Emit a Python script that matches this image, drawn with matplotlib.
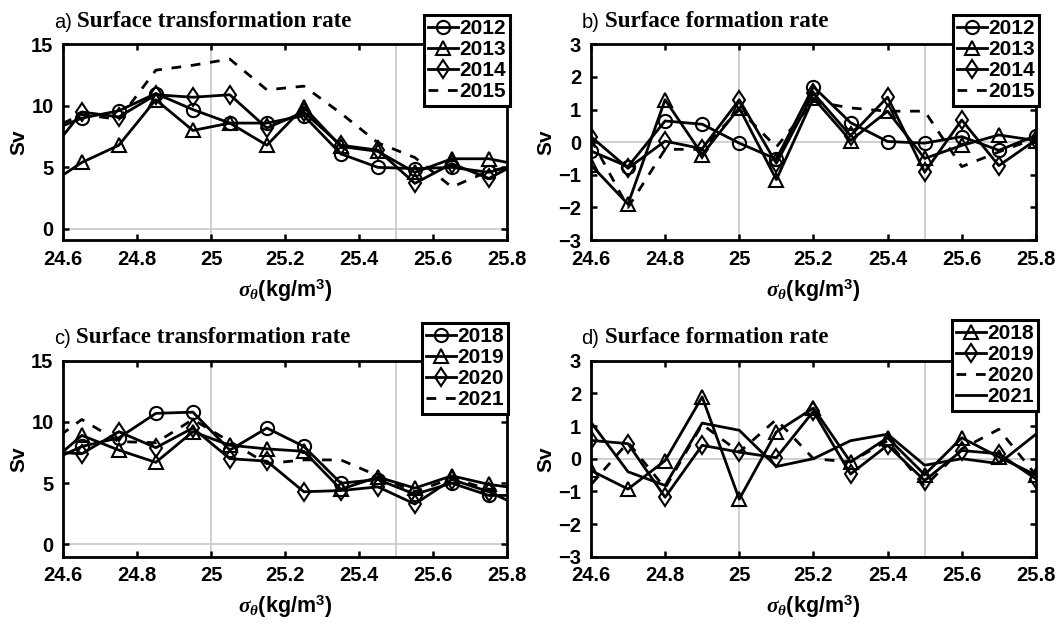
import numpy as np
import matplotlib.pyplot as plt

plt.rcParams['font.family'] = 'Liberation Sans'
plt.rcParams['font.weight'] = 'bold'
plt.rcParams['axes.labelweight'] = 'bold'
plt.rcParams['mathtext.fontset'] = 'custom'
plt.rcParams['mathtext.it'] = 'Liberation Serif:italic'
plt.rcParams['mathtext.rm'] = 'Liberation Sans:bold'

# density bins: transformation rate on bin centres, formation rate on bin edges
sig_mid = [24.55, 24.65, 24.75, 24.85, 24.95, 25.05, 25.15, 25.25, 25.35, 25.45, 25.55, 25.65, 25.75, 25.85]
sig_edge = [24.6, 24.7, 24.8, 24.9, 25.0, 25.1, 25.2, 25.3, 25.4, 25.5, 25.6, 25.7, 25.8]

# a) transformation rate 2012-2015 (Sv)
tr_2012 = [7.8, 9.0, 9.6, 11.0, 9.7, 8.6, 8.6, 9.2, 6.1, 5.0, 4.9, 5.0, 4.6, 5.4]
tr_2013 = [3.4, 5.4, 6.8, 10.5, 8.0, 8.6, 6.8, 9.9, 6.7, 6.3, 4.6, 5.7, 5.7, 5.1]
tr_2014 = [5.7, 9.5, 9.1, 10.9, 10.7, 10.9, 8.2, 9.5, 6.8, 6.4, 3.7, 5.3, 4.1, 5.7]
tr_2015 = [7.9, 9.3, 8.9, 12.9, 13.3, 13.8, 11.3, 11.6, 9.4, 7.0, 5.8, 3.4, 4.7, 5.3]

# b) formation rate 2012-2015 (Sv)
fr_2012 = [-0.27, -0.75, 0.65, 0.55, -0.03, -0.52, 1.7, 0.6, 0.02, -0.03, 0.17, -0.25, 0.2]
fr_2013 = [-0.7, -1.9, 1.3, -0.38, 1.05, -1.15, 1.35, 0.05, 0.95, -0.5, -0.1, 0.22, 0.05]
fr_2014 = [0.17, -0.8, 0.03, -0.2, 1.3, -0.65, 1.5, 0.2, 1.38, -0.92, 0.68, -0.72, 0.07]
fr_2015 = [0.1, -2.0, -0.22, -0.22, 1.0, -0.15, 1.25, 1.05, 0.95, 0.95, -0.75, -0.3, 0.12]

# c) transformation rate 2018-2021 (Sv)
tr_2018 = [6.6, 8.0, 8.7, 10.7, 10.8, 7.7, 9.5, 8.0, 5.0, 5.3, 4.1, 5.0, 4.0, 4.0]
tr_2019 = [6.3, 8.9, 7.7, 6.7, 9.2, 8.1, 7.8, 7.6, 4.5, 5.5, 4.6, 5.6, 4.9, 4.5]
tr_2020 = [7.6, 7.4, 9.2, 7.9, 9.5, 7.0, 6.8, 4.3, 4.4, 4.7, 3.3, 5.3, 4.3, 2.9]
tr_2021 = [8.0, 10.2, 8.4, 8.3, 10.2, 8.4, 6.6, 6.9, 6.9, 5.6, 4.3, 5.4, 4.5, 4.3]

# d) formation rate 2018-2021 (Sv)
fr_2018 = [-0.36, -0.93, -0.06, 1.89, -1.24, 0.82, 1.55, -0.1, 0.64, -0.49, 0.64, 0.05, -0.5]
fr_2019 = [0.56, 0.46, -1.18, 0.41, 0.2, 0.03, 1.45, -0.47, 0.41, -0.67, 0.25, 0.15, -0.62]
fr_2020 = [-0.8, 0.5, -0.9, 1.05, 0.2, 1.2, 0.0, -0.1, 0.55, -0.85, 0.3, 0.9, -0.5]
fr_2021 = [1.12, -0.4, -0.82, 1.09, 0.87, -0.24, 0.0, 0.55, 0.75, -0.2, 0.0, -0.15, 0.75]

xticks = [24.6, 24.8, 25.0, 25.2, 25.4, 25.6, 25.8]
xticklabels = ['24.6', '24.8', '25', '25.2', '25.4', '25.6', '25.8']

DASH = (0, (3.5, 3.5))
STY = {'o': dict(marker='o', ls='-'),
       '^': dict(marker='^', ls='-'),
       'd': dict(marker='d', ls='-'),
       '--': dict(marker=None, ls=DASH),
       '-': dict(marker=None, ls='-')}


def panel(ax, x, series, ylim, yticks, tag, title, anchor):
    for ref in (25.0, 25.5):
        ax.axvline(ref, color='#c8c8c8', lw=1.2, zorder=0)
    ax.axhline(0, color='#c8c8c8', lw=1.2, zorder=0)

    for y, lab, st in series:
        ax.plot(x, y, color='k', lw=2.0, ms=9.5, mfc='none', mew=1.5,
                label=lab, **STY[st])

    ax.set_xlim(24.6, 25.8)
    ax.set_ylim(*ylim)
    ax.set_xticks(xticks)
    ax.set_xticklabels(xticklabels)
    ax.set_yticks(yticks)
    ax.tick_params(direction='in', length=4, width=1.8, labelsize=14.5, pad=7,
                   top=True, right=True)
    for s in ax.spines.values():
        s.set_linewidth(2)
    ax.set_ylabel('Sv', fontsize=15, labelpad=2)
    ax.set_xlabel(r'$\sigma_\theta$(kg/m$^\mathrm{3}$)', fontsize=15.5, labelpad=6)

    t = ax.text(-0.021, 1.083, tag, transform=ax.transAxes, fontsize=14.5,
                fontweight='normal', va='baseline')
    ax.annotate(title, xy=(1, 0), xycoords=t, xytext=(4, 0), textcoords='offset points',
                va='bottom', fontsize=16.5, family='Liberation Serif', fontweight='bold')

    leg = ax.legend(loc='upper right', bbox_to_anchor=anchor, borderaxespad=0,
                    fontsize=15, handlelength=1.45, handletextpad=0.05,
                    labelspacing=0.1, borderpad=0.2, numpoints=1,
                    fancybox=False, framealpha=1, edgecolor='k')
    leg.get_frame().set_linewidth(2.2)


fig = plt.figure(figsize=(10.59, 6.25), dpi=100)
ax_a = fig.add_axes([0.0598, 0.616, 0.4193, 0.3131])
ax_b = fig.add_axes([0.558, 0.616, 0.4202, 0.3131])
ax_c = fig.add_axes([0.0598, 0.1093, 0.4193, 0.3136])
ax_d = fig.add_axes([0.558, 0.1093, 0.4202, 0.3136])

panel(ax_a, sig_mid,
      [(tr_2012, '2012', 'o'), (tr_2013, '2013', '^'), (tr_2014, '2014', 'd'), (tr_2015, '2015', '--')],
      (-0.9, 15), [0, 5, 10, 15], 'a)', 'Surface transformation rate', (1.006, 1.15))
panel(ax_b, sig_edge,
      [(fr_2012, '2012', 'o'), (fr_2013, '2013', '^'), (fr_2014, '2014', 'd'), (fr_2015, '2015', '--')],
      (-3, 3), [-3, -2, -1, 0, 1, 2, 3], 'b)', 'Surface formation rate', (1.007, 1.15))
panel(ax_c, sig_mid,
      [(tr_2018, '2018', 'o'), (tr_2019, '2019', '^'), (tr_2020, '2020', 'd'), (tr_2021, '2021', '--')],
      (-1, 15), [0, 5, 10, 15], 'c)', 'Surface transformation rate', (1.002, 1.192))
panel(ax_d, sig_edge,
      [(fr_2018, '2018', '^'), (fr_2019, '2019', 'd'), (fr_2020, '2020', '--'), (fr_2021, '2021', '-')],
      (-3, 3), [-3, -2, -1, 0, 1, 2, 3], 'd)', 'Surface formation rate', (1.005, 1.208))

fig.savefig('out.png', dpi=100)
